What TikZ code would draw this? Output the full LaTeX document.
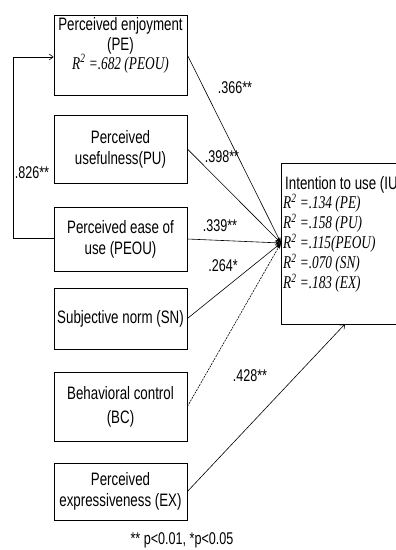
\documentclass[tikz,border=0pt]{standalone}
\usepackage{fontspec}
\setmainfont[FakeStretch=0.74]{Liberation Sans}
\newfontfamily\rfont[FakeStretch=0.74]{Liberation Serif}
\usetikzlibrary{arrows.meta}
\begin{document}
\begin{tikzpicture}[x=1pt,y=-1pt,
  box/.style={draw, line width=0.8pt, minimum width=133pt, inner sep=0pt, align=center,
    font=\fontsize{18}{21}\selectfont},
  txt/.style={inner sep=0pt, align=center, font=\fontsize{18}{20}\selectfont},
  lbl/.style={inner sep=0pt, font=\fontsize{17}{18}\selectfont},
  rtxt/.style={inner sep=0pt, anchor=west, font=\fontsize{18}{20}\rfont\itshape},
  conn/.style={line width=0.6pt},
  solidtip/.style={-{Stealth[length=6pt,width=4pt]}},
  opentip/.style={-{Straight Barb[length=4pt,width=6pt]}}]
\clip (0,0) rectangle (396,550);
\fill[white] (0,0) rectangle (396,550);

% left boxes
\node[box, minimum height=80pt] (pe) at (120.5,55) {};
\node[txt] (pet) at (120.5,45) {Perceived enjoyment\\(PE)\\[-1pt]{\rfont\itshape R\textsuperscript{2} =.682 (PEOU)}};
\node[box, minimum height=68pt] (pu) at (120.5,149) {Perceived\\usefulness(PU)};
\node[box, minimum height=64pt] (peou) at (120.5,239) {Perceived ease of\\use (PEOU)};
\node[box, minimum height=61pt] (sn) at (120.5,318.5) {Subjective norm (SN)};
\node[box, minimum height=69pt, font=\fontsize{18}{24}\selectfont] (bc) at (120.5,406.5) {Behavioral control\\(BC)};
\node[box, minimum height=57pt] (ex) at (120.5,491.5) {Perceived\\expressiveness (EX)};

% intention box
\node[draw, line width=0.8pt, minimum width=140pt, minimum height=161pt, anchor=north west, inner sep=0pt] (iu) at (281,163) {};
\node[inner sep=0pt, anchor=west, font=\fontsize{18}{20}\selectfont] (iut) at (285,185) {Intention to use (IU)};
\node[rtxt] (r1) at (283,203.5) {R\textsuperscript{2} =.134 (PE)};
\node[rtxt] (r2) at (283,223.5) {R\textsuperscript{2} =.158 (PU)};
\node[rtxt] (r3) at (283,243.5) {R\textsuperscript{2} =.115(PEOU)};
\node[rtxt] (r4) at (283,263.5) {R\textsuperscript{2} =.070 (SN)};
\node[rtxt] (r5) at (283,283.5) {R\textsuperscript{2} =.183 (EX)};

\coordinate (t) at (281,243);
\coordinate (exin) at (345,324);
\coordinate (fb1) at (13,238);
\coordinate (fb2) at (13,57);

% connectors
\draw[conn, solidtip] (pe.east) -- (t);
\draw[conn, solidtip] (pu.east) -- (t);
\draw[conn, solidtip] (peou.east) -- (t);
\draw[conn, solidtip] (sn.east) -- (t);
\draw[conn, solidtip, dash pattern=on 2pt off 1pt] (bc.east) -- (t);
\draw[conn, opentip] (ex.east) -- (exin);
\draw[conn, opentip] (peou.west |- fb1) -- (fb1) -- (fb2) -- (pe.west |- fb2);

% labels
\node[lbl] (l1) at (235,88) {.366**};
\node[lbl] (l2) at (222,157) {.398**};
\node[lbl] (l3) at (220,226) {.339**};
\node[lbl] (l4) at (223,266) {.264*};
\node[lbl] (l5) at (250,376) {.428**};
\node[lbl] (l6) at (32,173) {.826**};
\node[lbl] (fn) at (182,540) {** p<0.01, *p<0.05};
\end{tikzpicture}
\end{document}
